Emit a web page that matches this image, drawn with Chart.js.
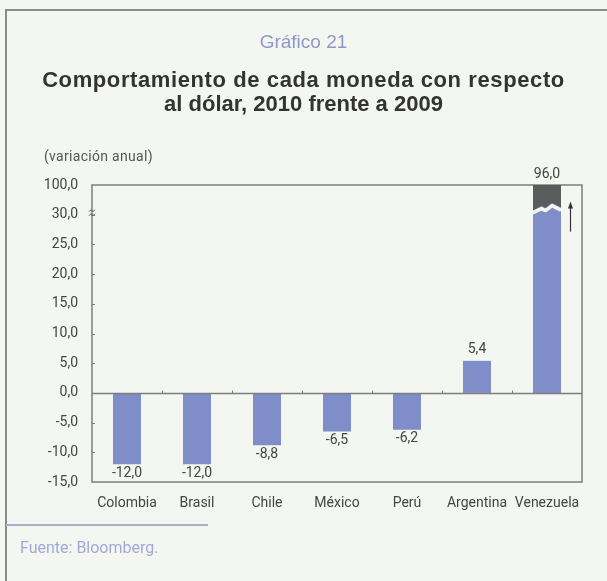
<!DOCTYPE html>
<html lang="es">
<head>
<meta charset="utf-8">
<script src="https://cdn.jsdelivr.net/npm/chart.js@4/dist/chart.umd.min.js"></script>
<style>
  html, body { margin: 0; padding: 0; background: #f4f7f1; }
  #wrap { position: relative; width: 607px; height: 581px; overflow: hidden; }
  #c { position: absolute; left: 0; top: 0; }
  .t { position: absolute; white-space: nowrap; }
  #frameTop { position: absolute; left: 5px; top: 9px; width: 602px; height: 2px; background: #8c8c8c; }
  #frameLeft { position: absolute; left: 5px; top: 9px; width: 2px; height: 572px; background: #8c8c8c; }
  #sep { position: absolute; left: 6px; top: 524px; width: 202px; height: 2px; background: #a9b0cc; }
  #num { left: 0; width: 607px; top: 31px; text-align: center; font: 19px "Liberation Sans", Arial, sans-serif; color: #8e97c6; }
  #ttl { left: 0; width: 607px; top: 68px; text-align: center; font: bold 22px/24px "Liberation Sans", Arial, sans-serif; color: #333; }
  #ttl .l1 { letter-spacing: 0.6px; }
  #unit { left: 44px; top: 148px; font: 14px Roboto, sans-serif; letter-spacing: 0.3px; color: #555; }
  #src { left: 20px; top: 538px; font: 16px Roboto, sans-serif; color: #a2a9d8; }
</style>
</head>
<body>
<div id="wrap">
  <canvas id="c" width="607" height="581"></canvas>
  <div id="frameTop"></div>
  <div id="frameLeft"></div>
  <div id="sep"></div>
  <div class="t" id="num">Gráfico 21</div>
  <div class="t" id="ttl"><span class="l1">Comportamiento de cada moneda con respecto</span><br>al dólar, 2010 frente a 2009</div>
  <div class="t" id="unit">(variación anual)</div>
  <div class="t" id="src">Fuente: Bloomberg.</div>
</div>
<script>
// Currencies and their annual change against the dollar (2010 vs 2009)
const countries = ["Colombia", "Brasil", "Chile", "México", "Perú", "Argentina", "Venezuela"];
const changes = [-12.0, -12.0, -8.8, -6.5, -6.2, 5.4, 96.0];

// Axis: linear from -15 to 35; the top step stands for the broken range up to 100
const axisMin = -15;
const axisMax = 35;
const axisStep = 5;
const breakValue = 30;
const topTickLabel = "100,0";

const labelFont = "Roboto, sans-serif";
const barColor = "#7f8ec8";
const capColor = "#5b5d5c";
const frameColor = "#7d7d7d";
const textColor = "#444";

const fmt = v => v.toFixed(1).replace(".", ",");

// Frame, zero line, inner ticks, axis break and the capped Venezuela bar
const decorations = {
  id: "decorations",
  beforeDatasetsDraw(chart) {
    const { ctx, chartArea: a, scales: { y } } = chart;
    ctx.save();
    ctx.strokeStyle = frameColor;
    ctx.lineWidth = 1.5;
    ctx.strokeRect(a.left, a.top, a.right - a.left, a.bottom - a.top);
    // inner tick marks on the value axis
    ctx.lineWidth = 1;
    for (let v = axisMin + axisStep; v < axisMax; v += axisStep) {
      const py = Math.round(y.getPixelForValue(v)) + 0.5;
      ctx.beginPath();
      ctx.moveTo(a.left, py);
      ctx.lineTo(a.left + 3, py);
      ctx.stroke();
    }
    ctx.restore();
  },
  afterDatasetsDraw(chart) {
    const { ctx, chartArea: a, scales: { x, y } } = chart;
    const meta = chart.getDatasetMeta(0);
    ctx.save();

    // zero line with category separators
    const y0 = Math.round(y.getPixelForValue(0)) + 0.5;
    ctx.strokeStyle = frameColor;
    ctx.lineWidth = 1.3;
    ctx.beginPath();
    ctx.moveTo(a.left, y0);
    ctx.lineTo(a.right, y0);
    ctx.stroke();
    ctx.lineWidth = 1;
    for (let i = 1; i < countries.length; i++) {
      const px = Math.round((x.getPixelForValue(i - 1) + x.getPixelForValue(i)) / 2) + 0.5;
      ctx.beginPath();
      ctx.moveTo(px, y0);
      ctx.lineTo(px, y0 - 3);
      ctx.stroke();
    }

    // axis break mark at the 30 step
    const yb = y.getPixelForValue(breakValue) - 2;
    ctx.strokeStyle = "#555";
    ctx.lineWidth = 1;
    [-2, 2].forEach(d => {
      ctx.beginPath();
      ctx.moveTo(a.left - 3, yb + d + 1);
      ctx.lineTo(a.left - 1, yb + d - 1);
      ctx.lineTo(a.left + 1, yb + d + 1);
      ctx.lineTo(a.left + 3, yb + d - 1);
      ctx.stroke();
    });

    // bars running past the top of the axis get a dark cap and a cut
    meta.data.forEach((bar, i) => {
      if (changes[i] <= axisMax) return;
      const w = bar.width;
      const x0 = bar.x - w / 2, x1 = bar.x + w / 2;
      const cutY = y.getPixelForValue(breakValue + 1.7);
      const wave = [
        [x0, cutY + 6], [x0 + w * 0.3, cutY + 1.5], [x0 + w * 0.45, cutY + 3.5],
        [x0 + w * 0.68, cutY - 1.5], [x1, cutY + 3]
      ];
      ctx.fillStyle = capColor;
      ctx.beginPath();
      ctx.moveTo(x0, a.top);
      ctx.lineTo(x1, a.top);
      for (let k = wave.length - 1; k >= 0; k--) ctx.lineTo(wave[k][0], wave[k][1]);
      ctx.closePath();
      ctx.fill();
      ctx.strokeStyle = "#f4f7f1";
      ctx.lineWidth = 3.5;
      ctx.lineJoin = "round";
      ctx.beginPath();
      wave.forEach(([px, py], k) => k ? ctx.lineTo(px, py + 2.5) : ctx.moveTo(px - 1, py + 2.5));
      ctx.stroke();

      // upward arrow beside the bar
      const ax = x1 + 9.5;
      ctx.strokeStyle = "#333";
      ctx.fillStyle = "#333";
      ctx.lineWidth = 1.2;
      ctx.beginPath();
      ctx.moveTo(ax, cutY + 27);
      ctx.lineTo(ax, cutY + 2);
      ctx.stroke();
      ctx.beginPath();
      ctx.moveTo(ax, cutY - 3);
      ctx.lineTo(ax - 2.5, cutY + 4);
      ctx.lineTo(ax + 2.5, cutY + 4);
      ctx.closePath();
      ctx.fill();
    });

    // value labels
    ctx.fillStyle = textColor;
    ctx.font = "14px " + labelFont;
    ctx.textAlign = "center";
    meta.data.forEach((bar, i) => {
      const v = changes[i];
      if (v >= 0) {
        ctx.textBaseline = "bottom";
        ctx.fillText(fmt(v), bar.x, Math.max(bar.y, a.top) - 4);
      } else {
        ctx.textBaseline = "top";
        ctx.fillText(fmt(v), bar.x, bar.y + 2);
      }
    });
    ctx.restore();
  }
};

new Chart(document.getElementById("c"), {
  type: "bar",
  data: {
    labels: countries,
    datasets: [{
      data: changes,
      backgroundColor: barColor,
      borderWidth: 0,
      categoryPercentage: 0.8,
      barPercentage: 0.5,
      clip: 0
    }]
  },
  options: {
    responsive: false,
    animation: false,
    events: [],
    layout: { padding: { top: 185, right: 25, bottom: 0, left: 0 } },
    plugins: { legend: { display: false }, tooltip: { enabled: false }, title: { display: false } },
    scales: {
      x: {
        grid: { display: false, drawTicks: false },
        border: { display: false },
        afterFit: s => { s.height = 99; },
        ticks: {
          padding: 13,
          maxRotation: 0,
          minRotation: 0,
          autoSkip: false,
          color: textColor,
          font: { family: labelFont, size: 14 }
        }
      },
      y: {
        min: axisMin,
        max: axisMax,
        grid: { display: false, drawTicks: false },
        border: { display: false },
        afterFit: s => { s.width = 92; },
        ticks: {
          stepSize: axisStep,
          padding: 14,
          color: textColor,
          font: { family: labelFont, size: 14 },
          callback: v => v === axisMax ? topTickLabel : fmt(v)
        }
      }
    }
  },
  plugins: [decorations]
});
</script>
</body>
</html>
